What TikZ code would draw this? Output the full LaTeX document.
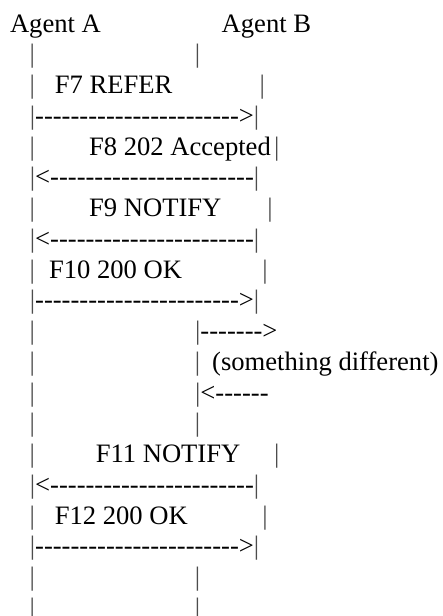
\documentclass[tikz,border=0pt]{standalone}
\usepackage{fontspec}
\setmainfont{Liberation Serif}[Ligatures={TeXOff,CommonOff}]
% a run of 23 hyphens for the full-width message rows
\newcommand\longrun{-----------------------}
% the lifeline glyph, drawn a little lighter than the text
\newcommand\vbar{{\color{black!70}|}}
\begin{document}
\begin{tikzpicture}[x=1pt,y=-1pt,
  txt/.style={inner sep=0pt, anchor=base west, font=\fontsize{26.6}{30}\selectfont},
  bar/.style={inner sep=0pt, anchor=base, text=black!70, font=\fontsize{26.6}{30}\selectfont}]
\useasboundingbox (0,0) rectangle (443,616);
% baseline of row n: 32 + (n-1)*30.75
\def\xa{32.3}
\def\xb{197.6}
\def\xs{29.65}
% row 1: agent names
\node[txt] (agA) at (9.8,32) {Agent A};
\node[txt] (agB) at (221.5,32) {Agent B};
% row 2
\node[bar] (r2a) at (\xa,62.75) {|};
\node[bar] (r2b) at (\xb,62.75) {|};
% rows 3-4: F7
\node[bar] (r3a) at (\xa,93.5) {|};
\node[txt] (f7) at (54.6,93.5) {F7 REFER};
\node[bar] (r3b) at (262.3,93.5) {|};
\node[txt] (m4) at (\xs,124.25) {\vbar\longrun>\vbar};
% rows 5-6: F8
\node[bar] (r5a) at (\xa,155) {|};
\node[txt] (f8) at (88.9,155) {F8 202 Accepted};
\node[bar] (r5b) at (276.7,155) {|};
\node[txt] (m6) at (\xs,185.75) {\vbar<\longrun\vbar};
% rows 7-8: F9
\node[bar] (r7a) at (\xa,216.5) {|};
\node[txt] (f9) at (88.9,216.5) {F9 NOTIFY};
\node[bar] (r7b) at (270,216.5) {|};
\node[txt] (m8) at (\xs,247.25) {\vbar<\longrun\vbar};
% rows 9-10: F10
\node[bar] (r9a) at (\xa,278) {|};
\node[txt] (f10) at (48.9,278) {F10 200 OK};
\node[bar] (r9b) at (265,278) {|};
\node[txt] (m10) at (\xs,308.75) {\vbar\longrun>\vbar};
% rows 11-13: exchange on the far side of Agent B
\node[bar] (r11a) at (\xa,339.5) {|};
\node[txt] (m11) at (\xb-2.65,339.5) {\vbar------->};
\node[bar] (r12a) at (\xa,370.25) {|};
\node[bar] (r12b) at (\xb,370.25) {|};
\node[txt] (diff) at (212,370.25) {(something different)};
\node[bar] (r13a) at (\xa,401) {|};
\node[txt] (m13) at (\xb-2.65,401) {\vbar<------};
% row 14
\node[bar] (r14a) at (\xa,431.75) {|};
\node[bar] (r14b) at (\xb,431.75) {|};
% rows 15-16: F11
\node[bar] (r15a) at (\xa,462.5) {|};
\node[txt] (f11) at (95.6,462.5) {F11 NOTIFY};
\node[bar] (r15b) at (276.7,462.5) {|};
\node[txt] (m16) at (\xs,493.25) {\vbar<\longrun\vbar};
% rows 17-18: F12
\node[bar] (r17a) at (\xa,524) {|};
\node[txt] (f12) at (54.6,524) {F12 200 OK};
\node[bar] (r17b) at (265,524) {|};
\node[txt] (m18) at (\xs,554.75) {\vbar\longrun>\vbar};
% rows 19-20
\node[bar] (r19a) at (\xa,585.5) {|};
\node[bar] (r19b) at (\xb,585.5) {|};
\node[bar] (r20a) at (\xa,616.25) {|};
\node[bar] (r20b) at (\xb,616.25) {|};
\end{tikzpicture}
\end{document}
